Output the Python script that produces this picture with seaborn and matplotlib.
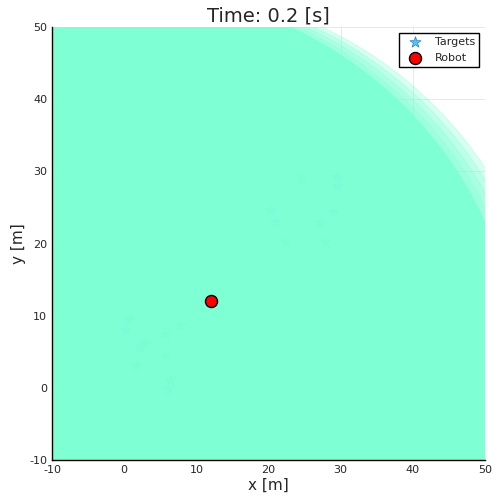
import matplotlib
matplotlib.use("Agg")
import matplotlib.pyplot as plt
import seaborn as sns
import pandas as pd
from matplotlib.patches import Circle

# targets (mostly hidden under the sensing area)
target_x = [24.7, 29.5, 29.5, 20.4, 20.9, 29.0, 27.1, 22.3, 27.8,
            0.8, 0.1, 7.7, 5.65, 2.9, 2.2, 5.65, 1.7, 6.3, 6.1]
target_y = [29.0, 29.2, 27.9, 24.6, 23.0, 24.4, 23.0, 20.2, 20.2,
            9.6, 8.0, 8.7, 7.5, 6.2, 5.7, 4.5, 3.2, 1.1, -0.2]

robot_x = [12.0]
robot_y = [12.0]

# sensing area circles: centre x, centre y, radius, opacity
area_cx = [0.0, 1.0, 2.0, 3.0, 4.0]
area_cy = [0.0, 0.0, 0.0, 0.0, 0.0]
area_r = [55.0, 55.05, 55.1, 55.15, 55.2]
area_alpha = [0.94, 0.3, 0.3, 0.3, 0.3]

time_s = 0.2

targets = pd.DataFrame({"x": target_x, "y": target_y})
robot = pd.DataFrame({"x": robot_x, "y": robot_y})

sns.set_style("white")
plt.rcParams["axes.unicode_minus"] = False
plt.rcParams["font.family"] = ["DejaVu Sans"]

fig = plt.figure(figsize=(5, 5), dpi=100)
ax = fig.add_axes([0.104, 0.08, 0.866, 0.866])

ax.grid(True, color="black", alpha=0.1, linewidth=0.6, zorder=0)
ax.set_axisbelow(True)

sns.scatterplot(data=targets, x="x", y="y", marker="*", s=70,
                color="#4fc8f0", edgecolor="#2a7fc0", linewidth=0.5,
                label="Targets", ax=ax, zorder=2)

for cx, cy, r, a in zip(area_cx, area_cy, area_r, area_alpha):
    ax.add_patch(Circle((cx, cy), r, facecolor="#7fffd4", alpha=a,
                        edgecolor="#7fffd4", linewidth=0.8, zorder=3))

sns.scatterplot(data=robot, x="x", y="y", marker="o", s=75,
                color="red", edgecolor="black", linewidth=1.0,
                label="Robot", ax=ax, zorder=5)

ax.set_xlim(-10, 50)
ax.set_ylim(-10, 50)
ax.set_xticks(range(-10, 51, 10))
ax.set_yticks(range(-10, 51, 10))
ax.tick_params(labelsize=8, direction="in", length=3, color="black")
ax.set_xlabel("x [m]", fontsize=11, labelpad=2)
ax.set_ylabel("y [m]", fontsize=11, labelpad=2)
ax.set_title(f"Time: {time_s} [s]", fontsize=14, pad=4)

for side in ["top", "right"]:
    ax.spines[side].set_visible(False)
for side in ["left", "bottom"]:
    ax.spines[side].set_color("black")
    ax.spines[side].set_linewidth(1.0)
    ax.spines[side].set_zorder(6)

leg = ax.legend(loc="upper right", fontsize=8, frameon=True, fancybox=False,
                edgecolor="black", framealpha=1.0, borderpad=0.4,
                handletextpad=0.8, borderaxespad=0.5)
leg.get_frame().set_linewidth(1.0)
leg.set_zorder(10)

fig.savefig("out.png", dpi=100)
